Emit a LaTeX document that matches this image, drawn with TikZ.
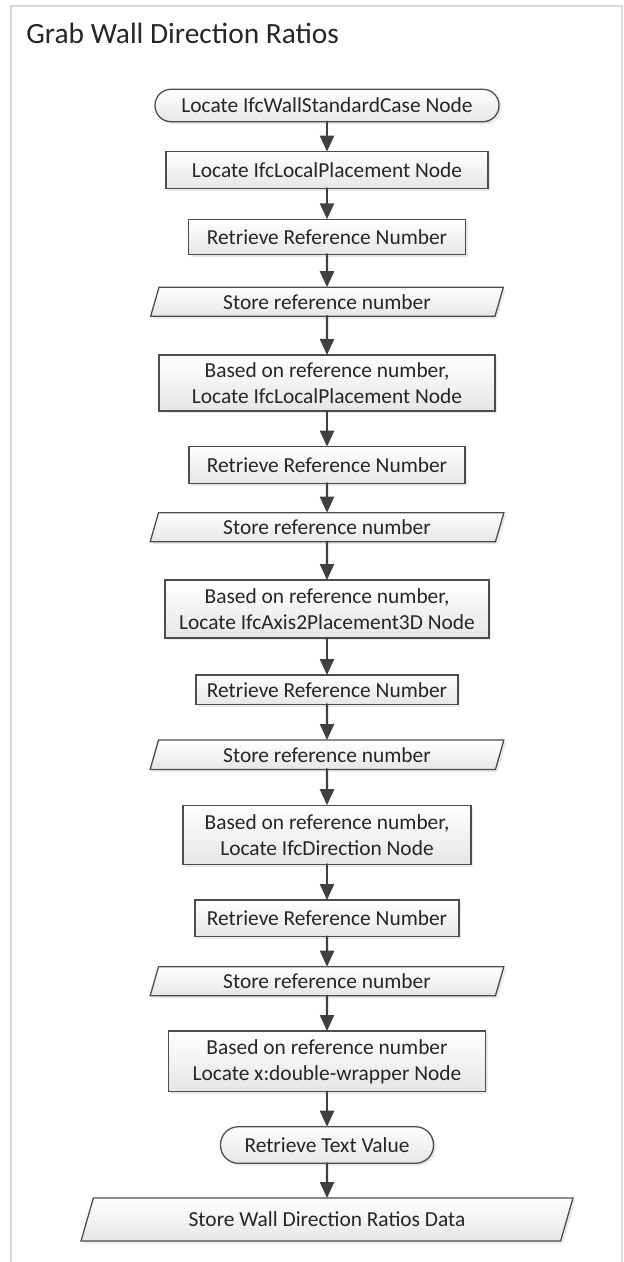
\documentclass[tikz,border=0pt]{standalone}
\usepackage{fontspec}
\setmainfont{Carlito}
\usepackage{tikz}
\usetikzlibrary{arrows.meta, shapes.geometric, shadows}
\definecolor{frameGray}{HTML}{D9D9D9}
\definecolor{boxEdge}{HTML}{4D4D4D}
\definecolor{arrowGray}{HTML}{404040}
\definecolor{textGray}{HTML}{262626}
\definecolor{boxBottom}{HTML}{E6E6E6}

\begin{document}
\begin{tikzpicture}[x=0.5pt, y=-0.5pt, line cap=round,
	nodeLook/.style={draw=boxEdge, line width=0.65pt, top color=white, bottom color=boxBottom,
		text=textGray, font=\fontsize{10.7}{13}\selectfont, align=center, inner sep=0pt, outer sep=0pt,
		drop shadow={shadow xshift=1.2pt, shadow yshift=-1.2pt, fill=gray!50, opacity=0.35}},
	procBox/.style={nodeLook, rectangle},
	termBox/.style={nodeLook, rectangle, rounded corners=#1},
	dataBox/.style={nodeLook, trapezium, trapezium stretches=true,
		trapezium left angle=#1, trapezium right angle=180-#1},
	flowArrow/.style={arrowGray, line width=1.2pt, -{Triangle[width=7pt, length=8pt]}}
	]

	\useasboundingbox (0,0) rectangle (623,1262);
	\draw[frameGray, line width=1pt] (10.7,1262) -- (10.7,5.7) -- (621.7,5.7) -- (621.7,1262);

	\node[anchor=base west, text=textGray, font=\fontsize{14.7}{17}\selectfont, inner sep=0pt] (title) at (26,43.3) {Grab Wall Direction Ratios};

	% flow, top to bottom
	\node[termBox=8pt, minimum width=172pt, minimum height=16.2pt] (wallCase) at (327,105.5) {Locate IfcWallStandardCase Node};
	\node[procBox, minimum width=161pt, minimum height=18.3pt] (localPlace) at (327,170) {Locate IfcLocalPlacement Node};
	\node[procBox, minimum width=138.5pt, minimum height=17.5pt] (refA) at (327,236.8) {Retrieve Reference Number};
	\node[dataBox=71, minimum width=176.5pt, minimum height=14.5pt] (storeA) at (327,301.7) {Store reference number};

	\node[procBox, minimum width=168pt, minimum height=28pt] (basedA) at (327,383) {Based on reference number,\\Locate IfcLocalPlacement Node};
	\node[procBox, minimum width=138pt, minimum height=18.3pt] (refB) at (327,465) {Retrieve Reference Number};
	\node[dataBox=71, minimum width=177pt, minimum height=14.5pt] (storeB) at (327,527.2) {Store reference number};

	\node[procBox, minimum width=162pt, minimum height=29pt] (basedB) at (327,609) {Based on reference number,\\Locate IfcAxis2Placement3D Node};
	\node[procBox, minimum width=131pt, minimum height=14.7pt] (refC) at (327,689.7) {Retrieve Reference Number};
	\node[dataBox=71, minimum width=177pt, minimum height=14.7pt] (storeC) at (327,754.7) {Store reference number};

	\node[procBox, minimum width=144pt, minimum height=29.5pt] (basedC) at (327,834.7) {Based on reference number,\\Locate IfcDirection Node};
	\node[procBox, minimum width=132pt, minimum height=18.3pt] (refD) at (327,918.3) {Retrieve Reference Number};
	\node[dataBox=71, minimum width=177pt, minimum height=14.5pt] (storeD) at (327,981.2) {Store reference number};

	\node[procBox, minimum width=158.5pt, minimum height=30.3pt] (basedD) at (327,1061.3) {Based on reference number\\Locate x:double-wrapper Node};
	\node[termBox=9pt, minimum width=106.5pt, minimum height=18.3pt] (textVal) at (327,1145) {Retrieve Text Value};
	\node[dataBox=64, minimum width=246.5pt, minimum height=21.5pt] (storeWall) at (327,1219.5) {Store Wall Direction Ratios Data};

	\draw[flowArrow] (wallCase) -- (localPlace);
	\draw[flowArrow] (localPlace) -- (refA);
	\draw[flowArrow] (refA) -- (storeA);
	\draw[flowArrow] (storeA) -- (basedA);
	\draw[flowArrow] (basedA) -- (refB);
	\draw[flowArrow] (refB) -- (storeB);
	\draw[flowArrow] (storeB) -- (basedB);
	\draw[flowArrow] (basedB) -- (refC);
	\draw[flowArrow] (refC) -- (storeC);
	\draw[flowArrow] (storeC) -- (basedC);
	\draw[flowArrow] (basedC) -- (refD);
	\draw[flowArrow] (refD) -- (storeD);
	\draw[flowArrow] (storeD) -- (basedD);
	\draw[flowArrow] (basedD) -- (textVal);
	\draw[flowArrow] (textVal) -- (storeWall);

\end{tikzpicture}
\end{document}
